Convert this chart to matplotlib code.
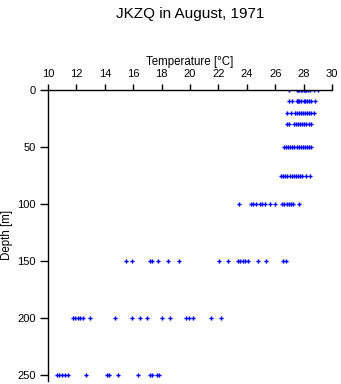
import matplotlib.pyplot as plt

plt.rcParams['font.family'] = ['Liberation Sans', 'DejaVu Sans']

# temperature readings (deg C) per depth
depths = [0, 10, 20, 30, 50, 75, 100, 150, 200, 250]
temps_0 = [26.95, 27.5, 27.6, 27.7, 27.8, 27.9, 28.0, 28.1, 28.2, 28.3, 28.45, 28.7, 29.0]
temps_10 = [26.97, 27.2, 27.5, 27.6, 27.7, 27.85, 28.0, 28.1, 28.25, 28.4, 28.55, 28.8]
temps_20 = [26.8, 27.1, 27.4, 27.5, 27.65, 27.8, 27.95, 28.1, 28.25, 28.4, 28.55, 28.7]
temps_30 = [26.8, 27.0, 27.3, 27.45, 27.6, 27.75, 27.9, 28.05, 28.2, 28.35, 28.5]
temps_50 = [26.6, 26.75, 26.9, 27.05, 27.2, 27.35, 27.5, 27.65, 27.8, 27.95, 28.1, 28.25, 28.4, 28.5]
temps_75 = [26.4, 26.55, 26.7, 26.85, 27.05, 27.15, 27.3, 27.45, 27.6, 27.75, 27.9, 28.2, 28.45]
temps_100 = [23.45, 24.3, 24.45, 24.65, 24.9, 25.1, 25.3, 25.6, 26.0, 26.5, 26.65, 26.8,
             26.95, 27.1, 27.25, 27.7]
temps_150 = [15.5, 15.95, 17.15, 17.35, 17.75, 18.45, 19.2, 22.05, 22.7, 23.4, 23.55, 23.7,
             23.85, 24.1, 24.8, 25.35, 26.55, 26.75]
temps_200 = [11.75, 11.9, 12.1, 12.25, 12.45, 12.95, 14.75, 15.95, 16.5, 17.0, 18.0, 18.6,
             19.75, 19.95, 20.2, 21.5, 22.2]
temps_250 = [10.6, 10.8, 11.0, 11.2, 11.4, 12.7, 14.15, 14.3, 14.95, 16.35, 17.15, 17.3,
             17.65, 17.85]
all_temps = [temps_0, temps_10, temps_20, temps_30, temps_50, temps_75, temps_100,
             temps_150, temps_200, temps_250]

x_ticks = list(range(10, 31, 2))
y_ticks = [0, 50, 100, 150, 200, 250]

fig = plt.figure(figsize=(3.41, 3.84), dpi=100)
ax = fig.add_axes([48 / 341, 3.3 / 384, 284 / 341, 290.7 / 384])

for d, temps in zip(depths, all_temps):
    ax.plot(temps, [d] * len(temps), linestyle='none', marker='P',
            markersize=3.0, color='#0000ff', markeredgewidth=0)

ax.set_xlim(10, 30)
ax.set_ylim(255, 0)
ax.xaxis.tick_top()
ax.xaxis.set_label_position('top')
ax.set_xticks(x_ticks)
ax.set_yticks(y_ticks)
for side in ['right', 'bottom']:
    ax.spines[side].set_visible(False)
for side in ['left', 'top']:
    ax.spines[side].set_linewidth(1.0)
ax.tick_params(direction='out', width=1.0, labelsize=8)
ax.tick_params(axis='x', length=4, pad=4)
ax.tick_params(axis='y', length=6, pad=3)
ax.set_xlabel('Temperature [°C]', fontsize=8.3, labelpad=3)
ax.set_ylabel('Depth [m]', fontsize=8.3, labelpad=3)

fig.text(190 / 341, 1 - 14 / 384, 'JKZQ in August, 1971', ha='center', va='center', fontsize=11)

fig.savefig('out.png', dpi=100)
